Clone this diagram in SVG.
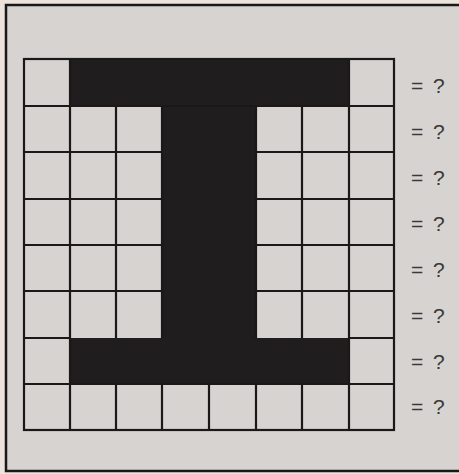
<svg xmlns="http://www.w3.org/2000/svg" width="459" height="474" viewBox="0 0 459 474">
<style>
.g{stroke:#1a1818;stroke-width:2.2;fill:none}
.b{fill:#1f1d1d}
.q{font-family:"Liberation Sans",Arial,sans-serif;font-size:21px;fill:#3a3838;word-spacing:4px}
</style>
<rect x="0" y="0" width="459" height="474" fill="#ebe3dc"/>
<rect x="6" y="5" width="460" height="466" fill="#d6d3d0" stroke="#1a1818" stroke-width="2.5"/>
<g id="shape">
<rect class="b" x="70" y="59" width="280" height="47"/>
<rect class="b" x="162" y="105" width="93" height="235"/>
<rect class="b" x="70" y="338" width="280" height="46"/>
</g>
<g id="grid" class="g">
<rect x="24" y="59" width="370" height="371"/>
<path d="M70 59V430M116 106V338M162 106V338M256 106V338M302 106V338M349 59V430M116 384V430M162 384V430M209 384V430M256 384V430M302 384V430"/>
<path d="M24 106H394M24 152H162M256 152H394M24 199H162M256 199H394M24 245H162M256 245H394M24 291H162M256 291H394M24 338H70M349 338H394M24 384H394"/>
</g>
<g id="labels">
<text class="q" x="411" y="93">= ?</text>
<text class="q" x="411" y="139">= ?</text>
<text class="q" x="411" y="185">= ?</text>
<text class="q" x="411" y="231">= ?</text>
<text class="q" x="411" y="277">= ?</text>
<text class="q" x="411" y="323">= ?</text>
<text class="q" x="411" y="369">= ?</text>
<text class="q" x="411" y="414">= ?</text>
</g>
</svg>
